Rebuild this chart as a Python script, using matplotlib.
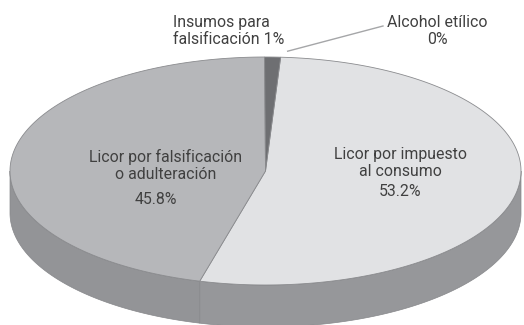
import numpy as np
import matplotlib.pyplot as plt
from matplotlib.patches import Polygon

plt.rcParams['font.family'] = ['Roboto', 'DejaVu Sans']

# slice data, clockwise from the first slice
categories = ["Licor por impuesto\nal consumo",
              "Licor por falsificación\no adulteración",
              "Insumos para\nfalsificación",
              "Alcohol etílico"]
shares = [53.2, 45.8, 1.0, 0.0]
top_colors = ["#e1e2e4", "#b6b7ba", "#6e6f72", "#8c8d90"]
side_colors = ["#96979a", "#939497", "#5e5f62", "#7a7b7e"]

# layout of the tilted pie, in pixel units
CX, CY = 265.5, 171.0
RX, RY = 255.5, 114.0
DEPTH = 42.0
START = 3.4
TEXT = "#404040"
FS = 11.4


def arc(t0, t1, dy=0.0, n=200):
    t = np.radians(np.linspace(t0, t1, n))
    return np.column_stack([CX + RX * np.sin(t), CY - RY * np.cos(t) + dy])


fig = plt.figure(figsize=(5.24, 3.25), dpi=100)
ax = fig.add_axes([0, 0, 1, 1])
ax.set_xlim(0, 524)
ax.set_ylim(325, 0)
ax.axis("off")

angles = START + np.concatenate([[0], np.cumsum(shares)]) * 3.6

# side walls first (only the front half, 90..270 degrees, is visible)
for i in range(len(shares)):
    t0, t1 = angles[i], angles[i + 1]
    for lo, hi in [(90, 270), (450, 630)]:
        a, b = max(t0, lo), min(t1, hi)
        if b > a:
            pts = np.vstack([arc(a, b), arc(a, b, DEPTH)[::-1]])
            ax.add_patch(Polygon(pts, closed=True, facecolor=side_colors[i],
                                 edgecolor="#86878a", lw=0.5))

# top faces
for i in range(len(shares)):
    t0, t1 = angles[i], angles[i + 1]
    if t1 - t0 <= 0:
        continue
    pts = np.vstack([[CX, CY], arc(t0, t1)])
    ax.add_patch(Polygon(pts, closed=True, facecolor=top_colors[i],
                         edgecolor="#8a8b8e", lw=0.6))

# labels
ax.text(400, 163, categories[0], ha="center", va="center", fontsize=FS,
        color=TEXT, linespacing=1.2)
ax.text(400, 192, f"{shares[0]:.1f}%", ha="center", va="center",
        fontsize=FS, color=TEXT)

ax.text(166, 165.5, categories[1], ha="center", va="center", fontsize=FS,
        color=TEXT, linespacing=1.2)
ax.text(156, 200, f"{shares[1]:.1f}%", ha="center", va="center",
        fontsize=FS, color=TEXT)

ax.text(173, 31, f"{categories[2]} {shares[2]:.0f}%", ha="left",
        va="center", fontsize=FS, color=TEXT, linespacing=1.2)

ax.text(437, 31, f"{categories[3]}\n{shares[3]:.0f}%", ha="center",
        va="center", fontsize=FS, color=TEXT, linespacing=1.2)

# leader line for the zero slice
lx, ly = arc(angles[3], angles[3], n=1)[0]
ax.plot([lx + 7, 383], [ly - 6, 26], color="#a5a6a8", lw=1.0)

fig.savefig("out.png", dpi=100, facecolor="white")
